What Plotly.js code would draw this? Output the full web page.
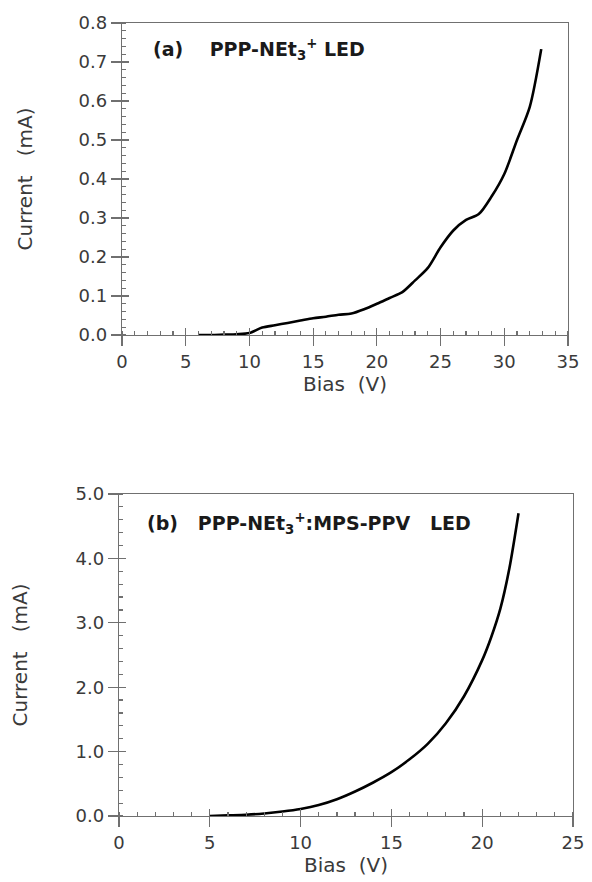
<!DOCTYPE html>
<html><head><meta charset="utf-8">
<script src="https://cdn.plot.ly/plotly-3.0.1.min.js"></script>
<style>html,body{margin:0;padding:0;background:#fff}#plot{width:592px;height:882px}</style>
</head><body><div id="plot"></div>
<script>
// (a) PPP-NEt3+ LED
const biasA = [6, 7, 8, 9, 10, 11, 12, 13, 14, 15, 16, 17, 18, 19, 20, 21, 22, 23, 24, 25, 26, 27, 28, 29, 30, 31, 32, 32.9];
const currentA = [0.0, 0.0, 0.001, 0.002, 0.005, 0.019, 0.025, 0.031, 0.037, 0.043, 0.047, 0.052, 0.055, 0.066, 0.08, 0.095, 0.11, 0.14, 0.172, 0.225, 0.268, 0.295, 0.31, 0.355, 0.413, 0.5, 0.585, 0.733];
// (b) PPP-NEt3+:MPS-PPV LED
const biasB = [5, 6, 7, 8, 9, 10, 11, 12, 13, 14, 15, 16, 17, 18, 19, 20, 20.5, 21, 21.5, 22];
const currentB = [0.0, 0.01, 0.02, 0.04, 0.07, 0.11, 0.17, 0.26, 0.38, 0.52, 0.68, 0.88, 1.12, 1.44, 1.86, 2.42, 2.78, 3.22, 3.85, 4.7];
const labelA = "(a)&nbsp;&nbsp;&nbsp;&nbsp;PPP-NEt<sub>3</sub><sup>+</sup> LED";
const labelB = "(b)&nbsp;&nbsp;&nbsp;PPP-NEt<sub>3</sub><sup>+</sup>:MPS-PPV&nbsp;&nbsp;&nbsp;LED";
const xTitle = "Bias&nbsp;&nbsp;(V)";
const yTitle = "Current&nbsp;&nbsp;&nbsp;(mA)";

const W = 592, H = 882;
const fx = p => p / W, fy = p => (H - p) / H;
const FAM = "DejaVu Sans, Verdana, sans-serif";
const tickFont = {family: FAM, size: 18, color: "#3a3a3a"};
const titleFont = {family: FAM, size: 20, color: "#3a3a3a"};
const axCol = "#707070";

const dA = {x: [fx(122), fx(568)], y: [fy(335), fy(23)]};
const dB = {x: [fx(119), fx(573)], y: [fy(816), fy(494)]};

function mainX(dom, range, anchor, minorD) {
  return {domain: dom, range: range, anchor: anchor, showgrid: false, zeroline: false,
    showline: true, mirror: true, linecolor: axCol, linewidth: 1.2,
    ticks: "outside", ticklen: 10, tickcolor: axCol, tickwidth: 1.2, dtick: 5, tick0: 0,
    minor: {ticks: "inside", ticklen: 4, dtick: minorD, tick0: 0, tickcolor: axCol, showgrid: false},
    tickfont: tickFont, fixedrange: true,
    title: {text: xTitle, font: titleFont, standoff: 4}};
}
function mainY(dom, range, anchor, d, minorD, fmt, standoff) {
  return {domain: dom, range: range, anchor: anchor, showgrid: false, zeroline: false,
    showline: true, mirror: true, linecolor: axCol, linewidth: 1.2,
    ticks: "outside", ticklen: 10, tickcolor: axCol, tickwidth: 1.2, dtick: d, tick0: 0,
    tickformat: fmt,
    minor: {ticks: "inside", ticklen: 4, dtick: minorD, tick0: 0, tickcolor: axCol, showgrid: false},
    tickfont: tickFont, fixedrange: true,
    title: {text: yTitle, font: titleFont, standoff: standoff}};
}
function overlay(base, over, anchor, d) {
  return {domain: base.domain, range: base.range, overlaying: over, anchor: anchor, matches: over,
    showgrid: false, zeroline: false, showline: false, showticklabels: false,
    ticks: "inside", ticklen: 7, tickcolor: axCol, tickwidth: 1.2, dtick: d, tick0: 0, fixedrange: true};
}

const xa = mainX(dA.x, [0, 35], "y", 1);
const ya = mainY(dA.y, [0, 0.8], "x", 0.1, 0.02, ".1f", 40);
const xb = mainX(dB.x, [0, 25], "y2", 1);
const yb = mainY(dB.y, [0, 5], "x2", 1, 0.2, ".1f", 42);

const line = {color: "#000", width: 2.6, shape: "spline", smoothing: 0.8};
const traces = [
  {x: biasA, y: currentA, xaxis: "x", yaxis: "y", mode: "lines", line: line, showlegend: false, hoverinfo: "skip"},
  {x: biasB, y: currentB, xaxis: "x2", yaxis: "y2", mode: "lines", line: line, showlegend: false, hoverinfo: "skip"}
];

const annFont = {family: FAM, size: 19, color: "#1a1a1a"};
const layout = {
  width: W, height: H, margin: {l: 0, r: 0, t: 0, b: 0},
  paper_bgcolor: "#fff", plot_bgcolor: "rgba(0,0,0,0)", showlegend: false,
  xaxis: xa, yaxis: ya, xaxis2: xb, yaxis2: yb,
  xaxis3: overlay(xa, "x", "y", 5),
  yaxis3: overlay(ya, "y", "x", 0.1),
  xaxis4: overlay(xb, "x2", "y2", 5),
  yaxis4: overlay(yb, "y2", "x2", 1),
  annotations: [
    {xref: "paper", yref: "paper", x: fx(151), y: fy(50), xanchor: "left", yanchor: "middle",
      text: "<b>" + labelA + "</b>", showarrow: false, font: annFont},
    {xref: "paper", yref: "paper", x: fx(145), y: fy(523), xanchor: "left", yanchor: "middle",
      text: "<b>" + labelB + "</b>", showarrow: false, font: annFont}
  ]
};
traces.push({x: [null], y: [null], xaxis: "x3", yaxis: "y3", showlegend: false, hoverinfo: "skip"});
traces.push({x: [null], y: [null], xaxis: "x4", yaxis: "y4", showlegend: false, hoverinfo: "skip"});

Plotly.newPlot("plot", traces, layout, {staticPlot: true, displayModeBar: false});
</script></body></html>
